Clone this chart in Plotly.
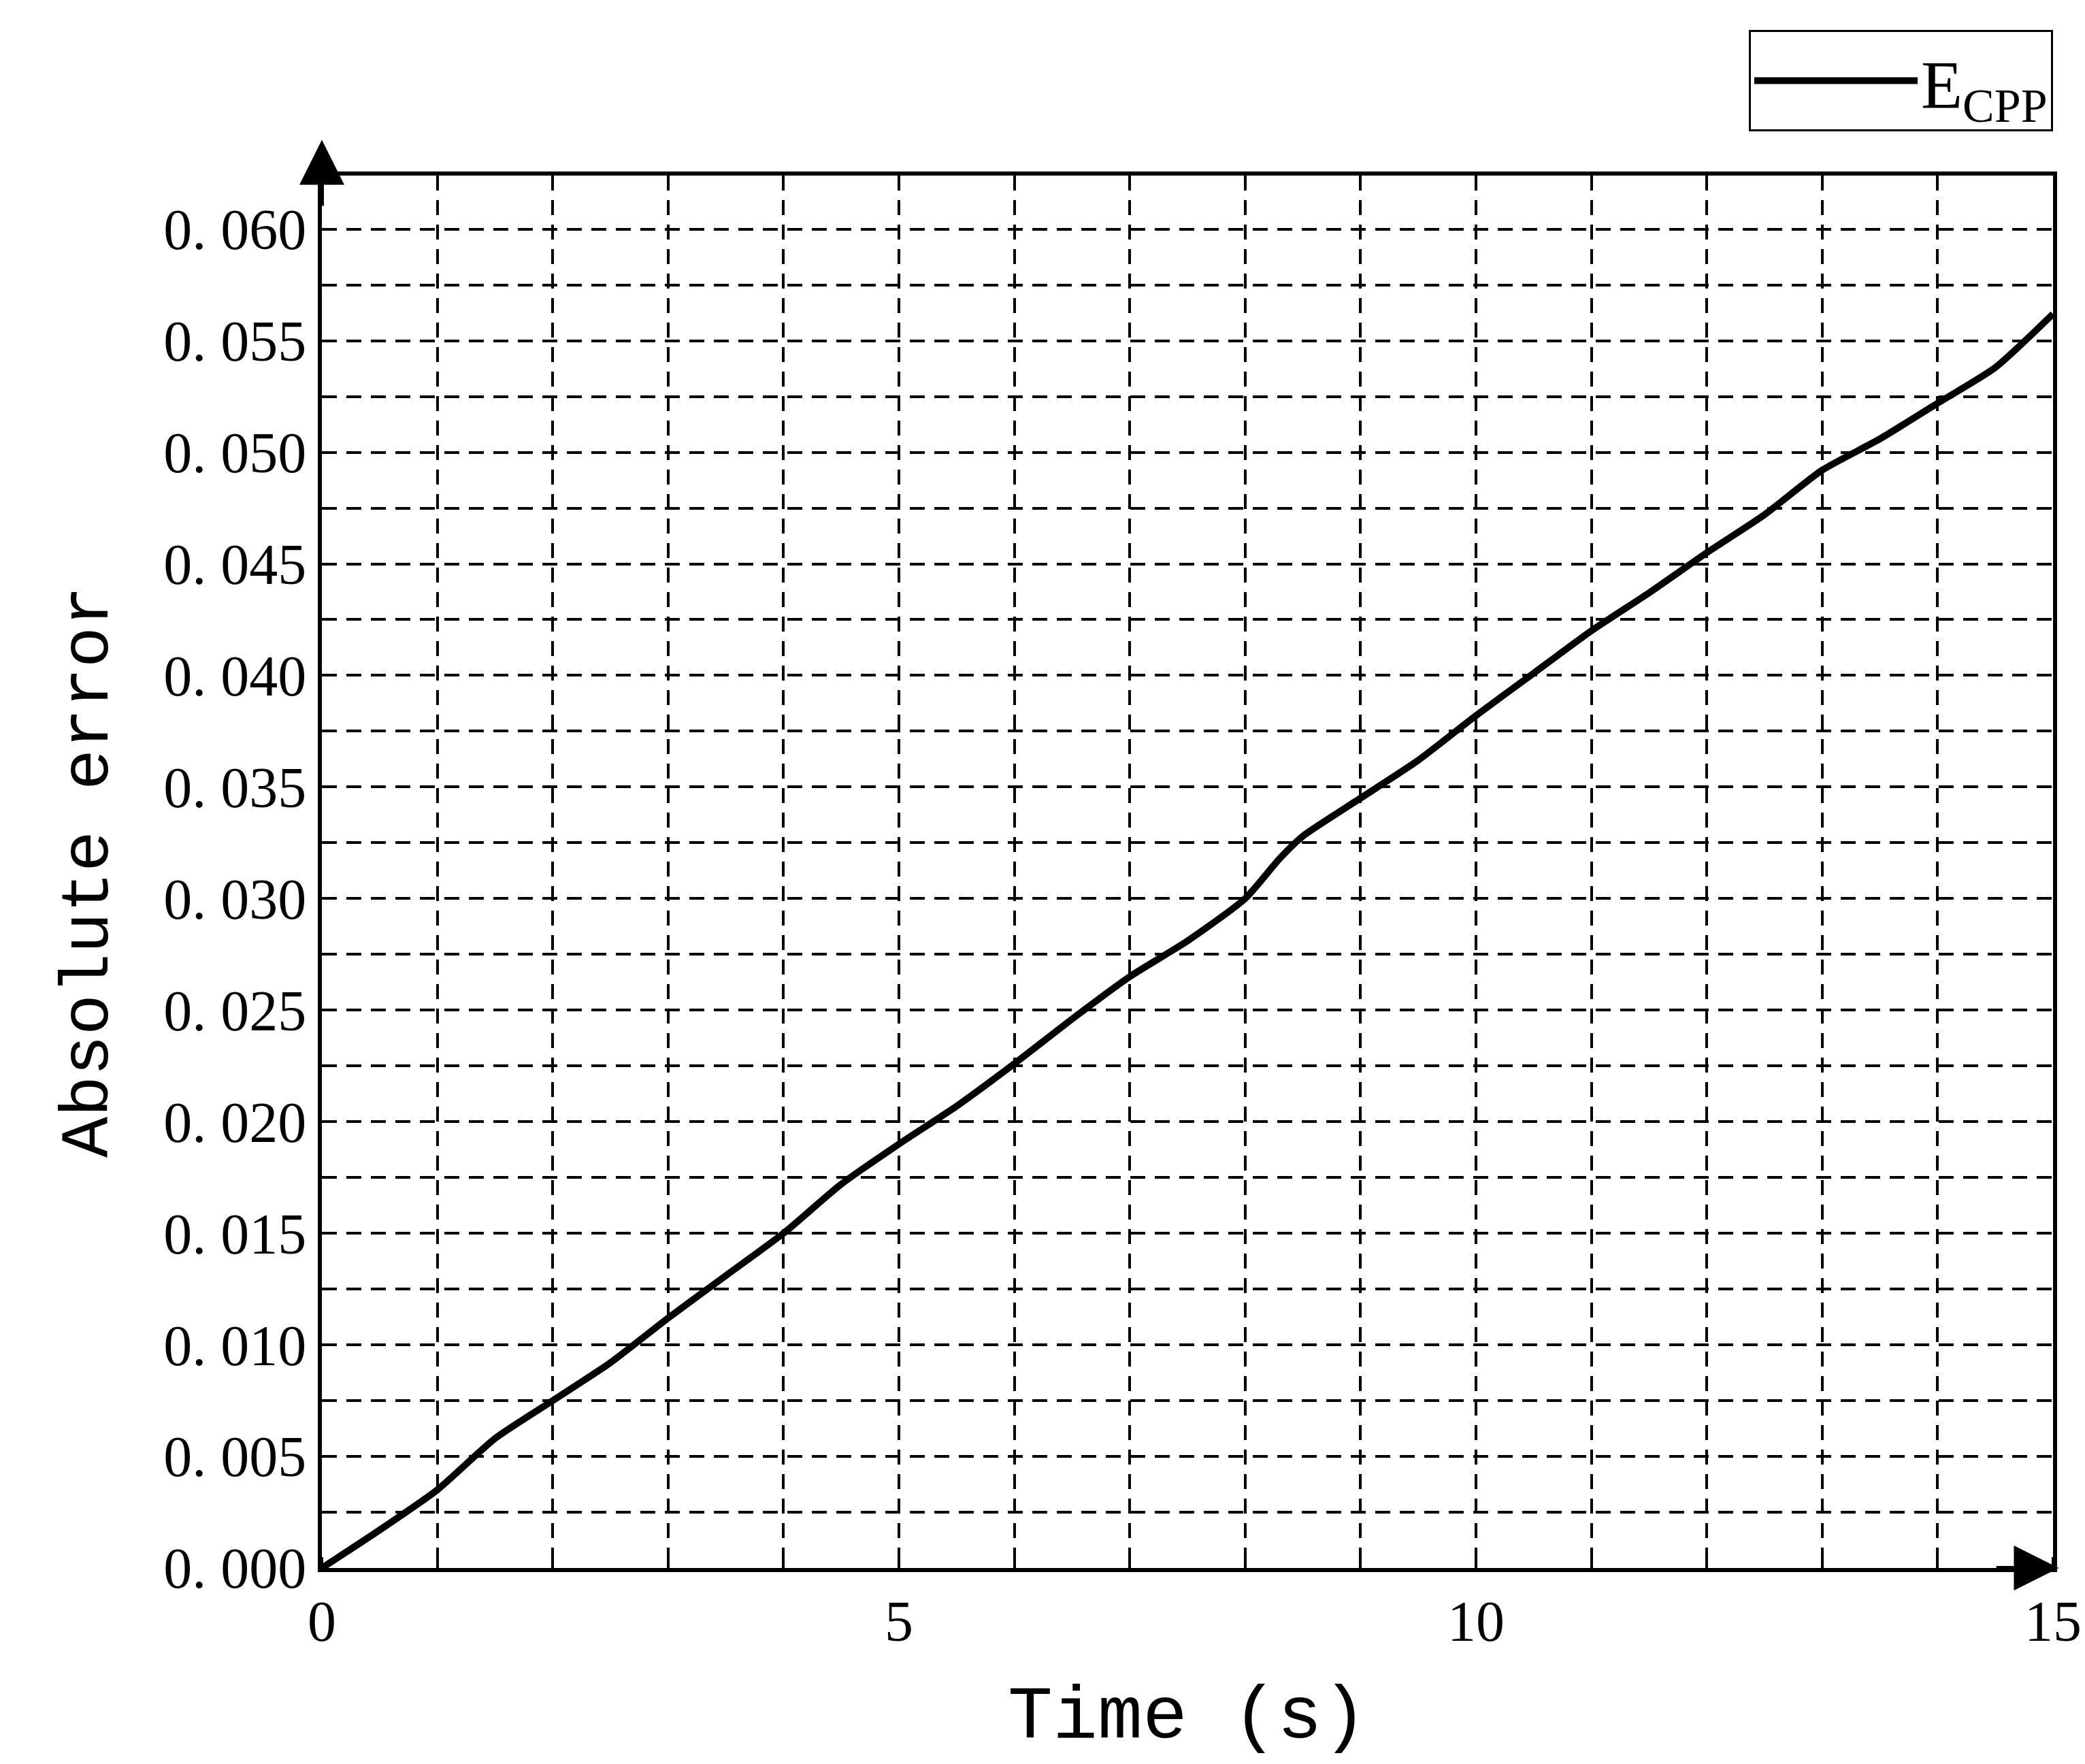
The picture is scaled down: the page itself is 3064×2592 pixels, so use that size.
import plotly.graph_objects as go

time_s = [0, 0.5, 1, 1.5, 2, 2.5, 3, 3.5, 4, 4.5, 5, 5.5, 6, 6.5, 7, 7.5, 8, 8.3, 8.5,
          9, 9.5, 10, 10.5, 11, 11.5, 12, 12.5, 13, 13.5, 14, 14.5, 15]
abs_error = [0, 0.0017, 0.0035, 0.0058, 0.0075, 0.0092, 0.0112, 0.0131, 0.0150, 0.0172,
             0.0190, 0.0207, 0.0226, 0.0246, 0.0265, 0.0281, 0.0300, 0.0318, 0.0328,
             0.0345, 0.0362, 0.0382, 0.0401, 0.0420, 0.0437, 0.0455, 0.0472, 0.0492,
             0.0506, 0.0522, 0.0538, 0.0562]
y_ticks = [i * 0.005 for i in range(13)]
y_labels = ["0. %03d" % round(v * 1000) for v in y_ticks]
x_ticks = [0, 5, 10, 15]

SERIF = "Liberation Serif, DejaVu Serif, serif"
MONO = "Liberation Mono, DejaVu Sans Mono, monospace"

fig = go.Figure()
fig.add_trace(go.Scatter(x=time_s, y=abs_error, mode="lines", name="E<sub>CPP</sub>",
                         line=dict(color="black", width=10, shape="spline", smoothing=0.6)))

grid = dict(showgrid=True, gridcolor="black", gridwidth=4, griddash="22px,14px")
fig.update_xaxes(range=[0, 15], tickvals=x_ticks, ticks="outside", ticklen=0,
                 showline=True, linecolor="black", linewidth=6, mirror=True,
                 minor=dict(dtick=1, **grid, ticks="inside", ticklen=16, tickcolor="black", tickwidth=4),
                 showgrid=False, zeroline=False,
                 tickfont=dict(family=SERIF, size=84, color="black"),
                 title=dict(text="Time (s)", font=dict(family=MONO, size=110, color="black"), standoff=50))
fig.update_yaxes(range=[0, 0.0624], tickvals=y_ticks, ticktext=y_labels, ticks="inside",
                 ticklen=16, tickwidth=4, tickcolor="black",
                 showline=True, linecolor="black", linewidth=6, mirror=True,
                 **grid, zeroline=False,
                 minor=dict(tick0=0.0025, dtick=0.005, **grid, ticks="inside", ticklen=10, tickcolor="black"),
                 tickfont=dict(family=SERIF, size=84, color="black"),
                 title=dict(text="Absolute error", font=dict(family=MONO, size=100, color="black"), standoff=50))

# axis arrowheads
fig.add_annotation(x=0, y=0.0640, ax=0, ay=0.0610, xref="x", yref="y", axref="x", ayref="y",
                   showarrow=True, arrowhead=2, arrowsize=2.2, arrowwidth=6, arrowcolor="black", text="")
fig.add_annotation(x=15.05, y=0, ax=14.5, ay=0, xref="x", yref="y", axref="x", ayref="y",
                   showarrow=True, arrowhead=2, arrowsize=2.2, arrowwidth=6, arrowcolor="black", text="")

fig.update_layout(width=3064, height=2592, paper_bgcolor="white", plot_bgcolor="white",
                  margin=dict(l=465, r=55, t=250, b=296),
                  showlegend=True,
                  legend=dict(x=1.0, y=1.0 + 65 / 2046, xanchor="right", yanchor="bottom",
                              xref="paper", yref="paper", bordercolor="black", borderwidth=3,
                              bgcolor="white",
                              font=dict(family=SERIF, size=100, color="black"),
                              itemwidth=240))
fig.write_html("out.html")
